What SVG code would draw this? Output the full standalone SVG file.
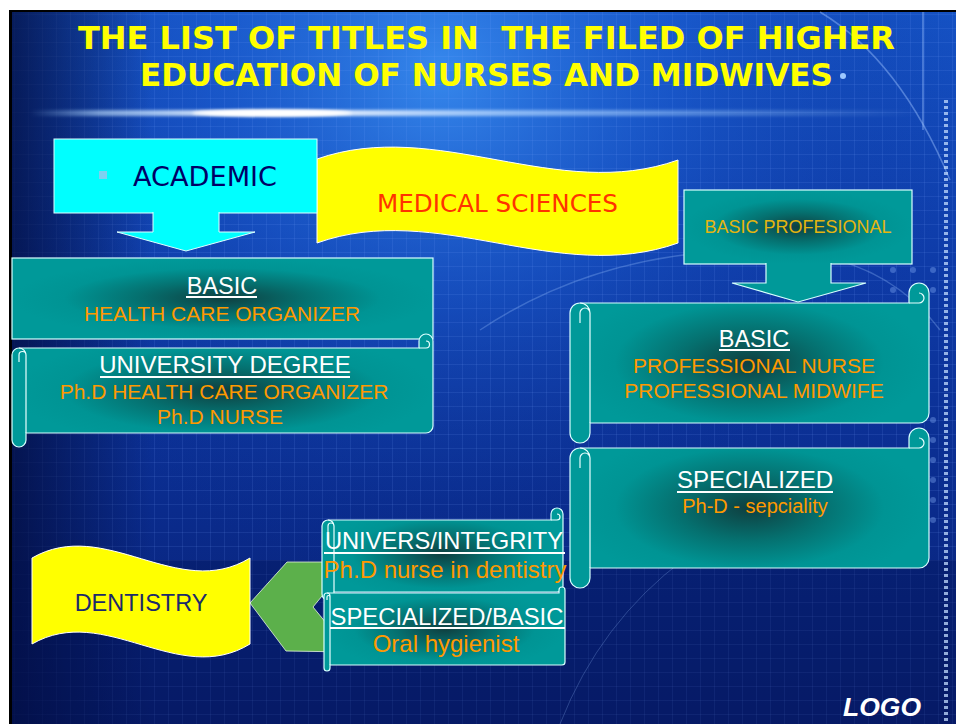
<svg xmlns="http://www.w3.org/2000/svg" width="956" height="724" viewBox="0 0 956 724">
<style>
.teal{fill:url(#tealG);stroke:#d8ffff;stroke-width:1.2}
.flat{fill:#009999;stroke:#d8ffff;stroke-width:1.2}
.det{fill:none;stroke:#e8ffff;stroke-width:1.2}
.hd{font-family:"Liberation Sans",Arial,sans-serif;fill:#ffffff;text-anchor:middle}
.or{font-family:"Liberation Sans",Arial,sans-serif;fill:#FF9900;text-anchor:middle}
.ul{stroke:#ffffff;stroke-width:2}
.comic{font-family:"DejaVu Sans","Noto Sans",sans-serif}
</style>
<defs>
<linearGradient id="bg" x1="0" y1="0" x2="0" y2="1">
<stop offset="0" stop-color="#1552c4"/>
<stop offset="0.35" stop-color="#0e3ba8"/>
<stop offset="0.7" stop-color="#0a2b8c"/>
<stop offset="1" stop-color="#081f72"/>
</linearGradient>
<radialGradient id="glow" cx="440" cy="70" r="520" gradientUnits="userSpaceOnUse">
<stop offset="0" stop-color="#3a8ff2" stop-opacity="0.9"/>
<stop offset="0.45" stop-color="#1e62d6" stop-opacity="0.45"/>
<stop offset="1" stop-color="#0a2a8c" stop-opacity="0"/>
</radialGradient>
<linearGradient id="leftDark" x1="0" y1="0" x2="1" y2="0">
<stop offset="0" stop-color="#020b3a" stop-opacity="0.75"/>
<stop offset="1" stop-color="#020b3a" stop-opacity="0"/>
</linearGradient>
<linearGradient id="streak" x1="0" y1="0" x2="1" y2="0">
<stop offset="0" stop-color="#9fd0ff" stop-opacity="0"/>
<stop offset="0.08" stop-color="#bfe0ff" stop-opacity="0.6"/>
<stop offset="0.27" stop-color="#ffffff" stop-opacity="1"/>
<stop offset="0.55" stop-color="#b0d4ff" stop-opacity="0.7"/>
<stop offset="1" stop-color="#9fd0ff" stop-opacity="0"/>
</linearGradient>
<radialGradient id="tealG" cx="0.5" cy="0.5" r="0.5">
<stop offset="0" stop-color="#0f3f40"/>
<stop offset="0.4" stop-color="#05706f"/>
<stop offset="0.75" stop-color="#009494"/>
<stop offset="1" stop-color="#009999"/>
</radialGradient>
<pattern id="grid" width="14" height="14" patternUnits="userSpaceOnUse">
<path d="M0 0.5H14M0.5 0V14" stroke="#7aa6ff" stroke-width="1" fill="none" opacity="0.12"/>
</pattern>
<filter id="blur" x="-5%" y="-300%" width="110%" height="700%"><feGaussianBlur stdDeviation="1.6"/></filter>
</defs>

<!-- background -->
<rect x="0" y="0" width="956" height="724" fill="#ffffff"/>
<rect x="9" y="10" width="947" height="714" fill="#000000"/>
<rect x="12" y="12" width="944" height="712" fill="url(#bg)"/>
<rect x="12" y="12" width="944" height="712" fill="url(#glow)"/>
<rect x="12" y="12" width="944" height="712" fill="url(#grid)"/>
<rect x="12" y="12" width="140" height="712" fill="url(#leftDark)"/>
<rect x="12" y="560" width="944" height="164" fill="#04124f" opacity="0.35"/>
<rect x="30" y="110" width="890" height="6" fill="url(#streak)" filter="url(#blur)"/>
<ellipse cx="272" cy="113" rx="80" ry="3.5" fill="#ffffff" filter="url(#blur)"/>
<path d="M820 12 Q900 60 950 180" fill="none" stroke="#9cc2ff" stroke-width="1.5" opacity="0.45"/>
<path d="M480 330 Q600 250 760 250 Q880 250 940 330" fill="none" stroke="#9cc2ff" stroke-width="1.5" opacity="0.3"/>
<path d="M560 724 Q640 520 900 470" fill="none" stroke="#9cc2ff" stroke-width="1" opacity="0.25"/>
<line x1="946" y1="100" x2="946" y2="724" stroke="#c2dcff" stroke-width="4" stroke-dasharray="3 3" opacity="0.75"/>
<line x1="923" y1="12" x2="923" y2="130" stroke="#9cc2ff" stroke-width="1.5" opacity="0.5"/>
<g fill="#8fb8ff" opacity="0.35">
<circle cx="893" cy="270" r="3"/><circle cx="913" cy="270" r="3"/><circle cx="933" cy="270" r="3"/>
<circle cx="893" cy="290" r="3"/><circle cx="913" cy="290" r="3"/><circle cx="933" cy="290" r="3"/>
<circle cx="933" cy="420" r="3"/><circle cx="933" cy="440" r="3"/><circle cx="933" cy="460" r="3"/>
<circle cx="933" cy="480" r="3"/><circle cx="933" cy="500" r="3"/><circle cx="933" cy="520" r="3"/>
</g>
<circle cx="843" cy="76" r="3" fill="#9ec9ff"/>

<!-- title -->
<g id="title" class="comic" fill="#FFFF00" font-weight="bold" font-size="32">
<text x="78" y="49" textLength="817" lengthAdjust="spacingAndGlyphs" xml:space="preserve">THE LIST OF TITLES IN  THE FILED OF HIGHER</text>
<text x="140" y="86" textLength="693" lengthAdjust="spacingAndGlyphs">EDUCATION OF NURSES AND MIDWIVES</text>
</g>

<!-- medical sciences banner -->
<g id="medical-sciences">
<path d="M317,159 C437,117 557,203 678,160 L678,243 C557,286 437,200 317,243 Z" fill="#FFFF00" stroke="#ffffff" stroke-width="1"/>
<text x="377" y="212" class="comic" font-size="24" fill="#FF3300" textLength="241" lengthAdjust="spacingAndGlyphs">MEDICAL SCIENCES</text>
</g>

<!-- academic -->
<g id="academic">
<rect x="54" y="139" width="263" height="74" fill="#00FFFF" stroke="#e0ffff" stroke-width="1"/>
<rect x="99" y="171" width="8" height="8" fill="#7fd0f0"/>
<text x="133" y="186" class="comic" font-size="27" fill="#000066" textLength="144" lengthAdjust="spacingAndGlyphs">ACADEMIC</text>
</g>

<!-- basic professional -->
<g id="basic-professional">
<rect x="684" y="190" width="228" height="74" class="teal"/>
<text x="798" y="233" font-family="'Liberation Sans',Arial,sans-serif" font-size="18" fill="#E5B50F" text-anchor="middle">BASIC PROFESIONAL</text>
</g>

<!-- connectors -->
<g id="connectors">
<path d="M153,212 L153,232 L117,232 L186,251 L255,232 L219,232 L219,212" fill="#00FFFF" stroke="#e0ffff" stroke-width="1"/>
<path d="M766,263 L766,283 L732,283 L798,302 L866,283 L831,283 L831,263" fill="#009999" stroke="#d8ffff" stroke-width="1.2"/>
<polygon points="287,562 350,562 313,607 350,652 286,651 250,603" fill="#5CB04B" stroke="#e6f5e0" stroke-width="0.8"/>
</g>

<!-- left basic -->
<g id="basic-left">
<rect x="12" y="258" width="421" height="81" class="teal"/>
<text x="222" y="294" class="hd" font-size="23.5">BASIC</text>
<line x1="186" y1="297" x2="257" y2="297" class="ul"/>
<text x="222" y="321" class="or" font-size="21">HEALTH CARE ORGANIZER</text>
</g>

<!-- university degree scroll -->
<g id="university-degree">
<path d="M12,355 A7 7 0 0 1 19,348 L419,348 L419,341 A7 7 0 0 1 433,341 L433,426 A7 7 0 0 1 426,433 L26,433 L26,440 A7 7 0 0 1 12,440 Z" class="teal"/>
<path d="M26,355 L26,433 M26,355 A7 7 0 0 0 19,348 M19,362 L19,355 A3.5 3.5 0 0 1 26,355 M419,348 L426,348 A3.5 3.5 0 0 0 426,341" class="det"/>
<text x="225" y="373" class="hd" font-size="24">UNIVERSITY DEGREE</text>
<line x1="100" y1="377" x2="350" y2="377" class="ul"/>
<text x="224" y="399" class="or" font-size="21">Ph.D HEALTH CARE ORGANIZER</text>
<text x="220" y="424" class="or" font-size="21">Ph.D NURSE</text>
</g>

<!-- right basic scroll -->
<g id="basic-right">
<path d="M570,313 A10 10 0 0 1 580,303 L909,303 L909,293 A10 10 0 0 1 929,293 L929,413 A10 10 0 0 1 919,423 L590,423 L590,433 A10 10 0 0 1 570,433 Z" class="teal"/>
<path d="M590,313 L590,423 M590,313 A10 10 0 0 0 580,303 M580,323 L580,313 A5 5 0 0 1 590,313 M909,303 L919,303 A5 5 0 0 0 919,293" class="det"/>
<text x="754" y="347" class="hd" font-size="23.5">BASIC</text>
<line x1="719" y1="350" x2="790" y2="350" class="ul"/>
<text x="754" y="373" class="or" font-size="21">PROFESSIONAL NURSE</text>
<text x="754" y="398" class="or" font-size="21">PROFESSIONAL MIDWIFE</text>
</g>

<!-- specialized scroll -->
<g id="specialized">
<path d="M570,458 A10 10 0 0 1 580,448 L909,448 L909,438 A10 10 0 0 1 929,438 L929,558 A10 10 0 0 1 919,568 L590,568 L590,578 A10 10 0 0 1 570,578 Z" class="teal"/>
<path d="M590,458 L590,568 M590,458 A10 10 0 0 0 580,448 M580,468 L580,458 A5 5 0 0 1 590,458 M909,448 L919,448 A5 5 0 0 0 919,438" class="det"/>
<text x="755" y="488" class="hd" font-size="24">SPECIALIZED</text>
<line x1="677" y1="492" x2="833" y2="492" class="ul"/>
<text x="755" y="513" class="or" font-size="20">Ph-D - sepciality</text>
</g>

<!-- univers/integrity scroll -->
<g id="univers-integrity">
<path d="M322,526 A6 6 0 0 1 328,520 L551,520 L551,514 A6 6 0 0 1 563,514 L563,586 A6 6 0 0 1 557,592 L334,592 L334,594 A6 6 0 0 1 322,594 Z" class="teal"/>
<path d="M334,526 L334,592 M334,526 A6 6 0 0 0 328,520 M328,532 L328,526 A3 3 0 0 1 334,526 M551,520 L557,520 A3 3 0 0 0 557,514" class="det"/>
<text x="444" y="549" class="hd" font-size="23.7">UNIVERS/INTEGRITY</text>
<line x1="324" y1="553" x2="565" y2="553" class="ul"/>
<text x="445" y="578" class="or" font-size="24">Ph.D nurse in dentistry</text>
</g>

<!-- specialized/basic scroll -->
<g id="specialized-basic">
<path d="M324,596 A3 3 0 0 1 327,593 L559,593 L559,590 A3 3 0 0 1 565,590 L565,662 A3 3 0 0 1 562,665 L330,665 L330,668 A3 3 0 0 1 324,668 Z" class="teal"/>
<path d="M330,596 L330,665 M330,596 A3 3 0 0 0 327,593 M327,600 L327,597 A1.5 1.5 0 0 1 330,597" class="det"/>
<text x="447" y="625" class="hd" font-size="23.8">SPECIALIZED/BASIC</text>
<line x1="330" y1="628" x2="565" y2="628" class="ul"/>
<text x="446" y="652" class="or" font-size="24">Oral hygienist</text>
</g>

<!-- dentistry banner -->
<g id="dentistry">
<path d="M32,558 C105,516 178,602 250,558 L250,644 C178,688 105,602 32,644 Z" fill="#FFFF00" stroke="#ffffff" stroke-width="1"/>
<text x="141" y="611" font-family="'Liberation Sans',Arial,sans-serif" font-size="23.5" fill="#1C2A6B" text-anchor="middle">DENTISTRY</text>
</g>

<!-- logo -->
<g id="logo">
<text x="843" y="716" font-family="'Liberation Sans',Arial,sans-serif" font-size="26" font-weight="bold" font-style="italic" fill="#ffffff" textLength="78" lengthAdjust="spacingAndGlyphs">LOGO</text>
</g>
</svg>
